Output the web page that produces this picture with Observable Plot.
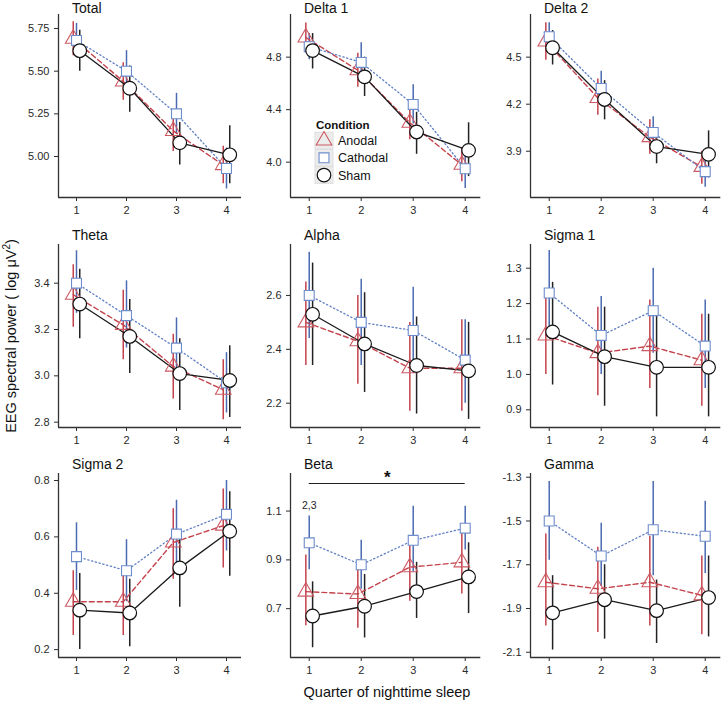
<!DOCTYPE html>
<html><head><meta charset="utf-8">
<script src="https://cdn.jsdelivr.net/npm/d3@7"></script>
<script src="https://cdn.jsdelivr.net/npm/@observablehq/plot@0.6"></script>
<style>
body{margin:0;background:#fff}
#chart{position:relative;width:723px;height:704px;overflow:hidden;font-family:"Liberation Sans",Arial,Helvetica,sans-serif}
#chart svg{position:absolute}
</style>
</head><body><div id="chart"></div>
<script>
// ---------- data ----------
const bands = ["Total","Delta 1","Delta 2","Theta","Alpha","Sigma 1","Sigma 2","Beta","Gamma"];
const quarters = [1,2,3,4];
const conditions = ["Anodal","Cathodal","Sham"];

const anodalMean = [[5.69,5.44,5.15,4.95],[4.95,4.70,4.30,3.98],[4.60,4.24,3.99,3.80],[3.35,3.22,3.04,2.94],[2.50,2.43,2.33,2.33],[1.11,1.06,1.08,1.04],[0.37,0.37,0.58,0.64],[0.77,0.76,0.87,0.89],[-1.78,-1.81,-1.78,-1.84]];
const anodalLow  = [[5.59,5.33,5.03,4.84],[4.84,4.57,4.17,3.85],[4.48,4.13,3.88,3.69],[3.21,3.07,2.90,2.81],[2.34,2.27,2.17,2.17],[1.00,0.94,0.96,0.91],[0.25,0.25,0.45,0.49],[0.63,0.62,0.73,0.76],[-1.98,-2.01,-1.98,-2.02]];
const anodalHigh = [[5.79,5.55,5.27,5.06],[5.06,4.83,4.43,4.11],[4.72,4.36,4.10,3.90],[3.48,3.37,3.18,3.07],[2.65,2.60,2.50,2.51],[1.22,1.19,1.21,1.17],[0.48,0.48,0.70,0.77],[0.92,0.90,1.00,1.02],[-1.56,-1.62,-1.57,-1.66]];

const cathodalMean = [[5.68,5.50,5.25,4.93],[4.88,4.76,4.44,3.95],[4.63,4.30,4.02,3.77],[3.40,3.26,3.12,2.97],[2.60,2.50,2.47,2.36],[1.23,1.11,1.18,1.08],[0.53,0.48,0.61,0.68],[0.97,0.88,0.98,1.03],[-1.50,-1.66,-1.54,-1.57]];
const cathodalLow  = [[5.58,5.38,5.13,4.81],[4.78,4.62,4.29,3.80],[4.54,4.19,3.92,3.67],[3.27,3.12,2.98,2.84],[2.44,2.34,2.31,2.20],[1.11,1.00,1.06,0.96],[0.41,0.37,0.49,0.55],[0.86,0.78,0.85,0.94],[-1.68,-1.80,-1.75,-1.74]];
const cathodalHigh = [[5.78,5.62,5.37,5.05],[4.98,4.91,4.59,4.09],[4.72,4.41,4.12,3.88],[3.54,3.41,3.25,3.10],[2.76,2.66,2.63,2.51],[1.35,1.22,1.30,1.21],[0.65,0.59,0.73,0.80],[1.08,0.98,1.12,1.12],[-1.32,-1.51,-1.32,-1.41]];

const shamMean = [[5.62,5.40,5.08,5.01],[4.85,4.65,4.23,4.09],[4.56,4.23,3.93,3.88],[3.31,3.17,3.01,2.98],[2.53,2.42,2.34,2.32],[1.12,1.05,1.02,1.02],[0.34,0.33,0.49,0.62],[0.67,0.71,0.77,0.83],[-1.92,-1.86,-1.91,-1.85]];
const shamLow  = [[5.50,5.26,4.95,4.84],[4.71,4.50,4.06,3.89],[4.45,4.10,3.82,3.73],[3.16,3.01,2.85,2.82],[2.34,2.24,2.16,2.14],[0.97,0.91,0.88,0.88],[0.20,0.21,0.35,0.46],[0.54,0.58,0.66,0.68],[-2.09,-2.04,-2.06,-2.03]];
const shamHigh = [[5.74,5.53,5.20,5.18],[4.98,4.80,4.38,4.30],[4.67,4.35,4.05,4.03],[3.46,3.33,3.16,3.13],[2.72,2.61,2.52,2.50],[1.26,1.19,1.17,1.17],[0.47,0.45,0.62,0.76],[0.81,0.84,0.89,0.97],[-1.75,-1.70,-1.77,-1.66]];

const yTicks = [[5.00,5.25,5.50,5.75],[4.0,4.4,4.8],[3.9,4.2,4.5],[2.8,3.0,3.2,3.4],[2.2,2.4,2.6],[0.9,1.0,1.1,1.2,1.3],[0.2,0.4,0.6,0.8],[0.7,0.9,1.1],[-2.1,-1.9,-1.7,-1.5,-1.3]];
const yTickDecimals = [2,1,1,1,1,1,1,1,1];

// significance annotation (Beta panel)
const sigBand = "Beta";
const sigFrom = 1, sigTo = 4, sigLevel = 1.213, sigMark = "*";
const postHocQuarter = 1, postHocLevel = 1.123, postHocLabel = "2,3";

const yLabelMain = "EEG spectral power ( log \u03bcV";
const xLabel = "Quarter of nighttime sleep";
const legendTitle = "Condition";

// ---------- layout / style ----------
const cols = [{left:58,k:50},{left:290,k:52},{left:530,k:52}];
const rows = [{top:14,bottom:197,title:13},{top:244,bottom:427,title:240},{top:473,bottom:657,title:469}];
const xDomain = [0.64, 4.3];
const yDomains = [[4.76,5.832],[3.731,5.125],[3.605,4.772],[2.777,3.567],[2.110,2.789],[0.850,1.367],[0.172,0.825],[0.50,1.254],[-2.124,-1.283]];
const dodge = {Anodal:-0.065, Cathodal:0, Sham:0.065};
const errColor = {Anodal:"#c4424c", Cathodal:"#4a6ab2", Sham:"#222222"};
const lineStyle = {
  Anodal:{stroke:"#c4424c", strokeWidth:1.4, strokeDasharray:"5,3"},
  Cathodal:{stroke:"#5f7fc4", strokeWidth:1.3, strokeDasharray:"1.3,2.6"},
  Sham:{stroke:"#1a1a1a", strokeWidth:1.3, strokeDasharray:null}
};
const dotStyle = {
  Anodal:{symbol:"triangle", r:5.8, stroke:"#cc5a63", fill:"none", strokeWidth:1.1},
  Cathodal:{symbol:"square", r:5.6, stroke:"#6d8ccc", fill:"white", strokeWidth:1.1},
  Sham:{symbol:"circle", r:6.8, stroke:"#111", fill:"white", strokeWidth:1.2}
};
const means = {Anodal:anodalMean, Cathodal:cathodalMean, Sham:shamMean};
const lows = {Anodal:anodalLow, Cathodal:cathodalLow, Sham:shamLow};
const highs = {Anodal:anodalHigh, Cathodal:cathodalHigh, Sham:shamHigh};

const chart = document.getElementById("chart");
const FONT = "Liberation Sans, Arial, Helvetica, sans-serif";
const ML = 50, MR = 6, MT = 4, MB = 30;

bands.forEach((band, i) => {
  const col = cols[i % 3], row = rows[Math.floor(i / 3)];
  const fw = (xDomain[1] - xDomain[0]) * col.k;
  const fh = row.bottom - row.top;
  const dec = yTickDecimals[i];
  const recs = [];
  conditions.forEach(c => quarters.forEach((q, j) => recs.push({
    cond: c, x: q + dodge[c], y: means[c][i][j], lo: lows[c][i][j], hi: highs[c][i][j]
  })));
  const marks = [
    Plot.ruleY([yDomains[i][0]], {stroke:"#333", strokeWidth:1.3}),
    Plot.ruleX([xDomain[0]], {stroke:"#333", strokeWidth:1.3})
  ];
  conditions.forEach(c => marks.push(Plot.ruleX(recs.filter(d => d.cond === c), {x:"x", y1:"lo", y2:"hi", stroke:errColor[c], strokeWidth:1.5})));
  conditions.forEach(c => marks.push(Plot.line(recs.filter(d => d.cond === c), {x:"x", y:"y", ...lineStyle[c]})));
  conditions.forEach(c => marks.push(Plot.dot(recs.filter(d => d.cond === c), {x:"x", y:"y", ...dotStyle[c]})));
  if (band === sigBand) {
    marks.push(Plot.ruleY([sigLevel], {x1:sigFrom, x2:sigTo, stroke:"#222", strokeWidth:1.2}));
    marks.push(Plot.text([sigMark], {x:(sigFrom + sigTo) / 2, y:sigLevel, text:d => d, dy:-1, fontSize:17, fontWeight:"bold", lineAnchor:"bottom", fill:"#111"}));
    marks.push(Plot.text([postHocLabel], {x:postHocQuarter, y:postHocLevel, text:d => d, fontSize:10.5, fill:"#222"}));
  }
  const svg = Plot.plot({
    width: ML + fw + MR, height: MT + fh + MB,
    marginLeft: ML, marginRight: MR, marginTop: MT, marginBottom: MB,
    style: {background:"transparent", fontFamily: FONT, fontSize:"11px", color:"#2a2a2a", overflow:"visible"},
    x: {domain: xDomain, ticks: quarters, tickFormat: d => String(d), tickSize: 4, label: null},
    y: {domain: yDomains[i], ticks: yTicks[i], tickFormat: d => d.toFixed(dec), tickSize: 4, label: null},
    marks
  });
  svg.style.left = (col.left - ML) + "px";
  svg.style.top = (row.top - MT) + "px";
  chart.appendChild(svg);
});

// ---------- overlay text: titles, axis labels, legend ----------
const ov = d3.select(chart).append("svg")
  .attr("width", 723).attr("height", 704)
  .style("left", "0px").style("top", "0px")
  .attr("font-family", FONT);

bands.forEach((band, i) => {
  const col = cols[i % 3], row = rows[Math.floor(i / 3)];
  ov.append("text").attr("x", col.left + 14).attr("y", row.title)
    .attr("font-size", 14).attr("fill", "#111").text(band);
});

const yl = ov.append("text").attr("transform", "translate(16,336) rotate(-90)")
  .attr("text-anchor", "middle").attr("font-size", 14.5).attr("fill", "#111");
yl.append("tspan").text(yLabelMain);
yl.append("tspan").attr("dy", -6).attr("font-size", 10).text("2");
yl.append("tspan").attr("dy", 6).text(")");

ov.append("text").attr("x", 387).attr("y", 697).attr("text-anchor", "middle")
  .attr("font-size", 14.5).attr("fill", "#111").text(xLabel);

const lg = ov.append("g");
lg.append("text").attr("x", 316).attr("y", 129).attr("font-size", 11.5)
  .attr("font-weight", "bold").attr("fill", "#111").text(legendTitle);
conditions.forEach((c, j) => {
  const cy = 140.5 + 17.3 * j;
  lg.append("rect").attr("x", 315).attr("y", cy - 8.3).attr("width", 18).attr("height", 16.6)
    .attr("fill", "#ececec").attr("stroke", "#dedede");
  const s = dotStyle[c];
  const typ = {triangle: d3.symbolTriangle, square: d3.symbolSquare, circle: d3.symbolCircle}[s.symbol];
  lg.append("path").attr("transform", `translate(324,${cy})`)
    .attr("d", d3.symbol(typ, Math.PI * s.r * s.r)())
    .attr("fill", s.fill === "none" ? "none" : "white").attr("stroke", s.stroke).attr("stroke-width", s.strokeWidth);
  lg.append("text").attr("x", 338).attr("y", cy + 4.5).attr("font-size", 12.5).attr("fill", "#111").text(c);
});
</script>
</body></html>
